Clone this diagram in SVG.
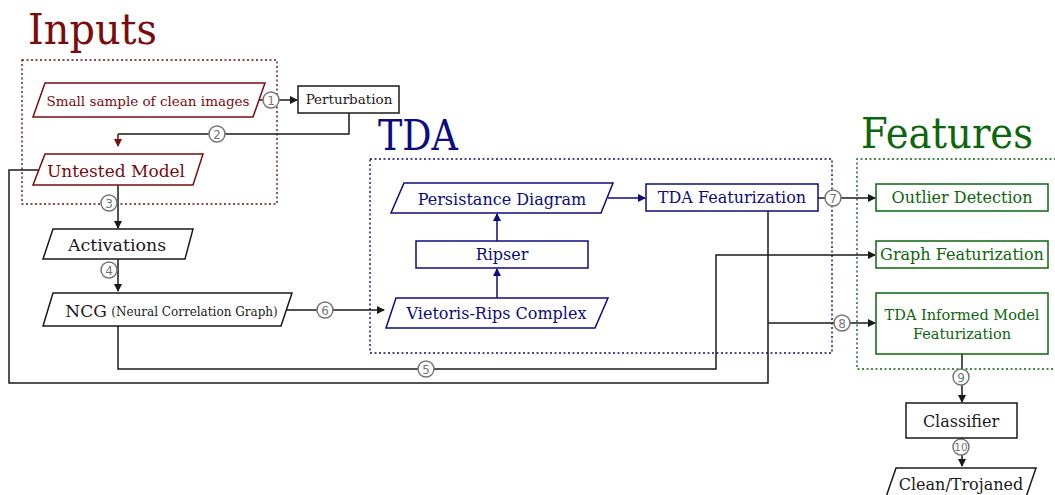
<svg xmlns="http://www.w3.org/2000/svg" width="1055" height="495" viewBox="0 0 1055 495">
<style>
  text { font-family: "DejaVu Serif", "Liberation Serif", serif; text-anchor: middle; }
  .title { font-size: 42px; text-anchor: start; }
  .red { fill: #7a0c0c; }
  .blue { fill: #0c0c80; }
  .green { fill: #0c660c; }
  .blk { fill: #1a1a1a; }
  .nred { fill: #fff; stroke: #7a0c0c; stroke-width: 1.5; }
  .nblue { fill: #fff; stroke: #0c0c80; stroke-width: 1.5; }
  .ngreen { fill: #fff; stroke: #0c660c; stroke-width: 1.5; }
  .nblk { fill: #fff; stroke: #1a1a1a; stroke-width: 1.5; }
  .lbl { font-size: 16px; }
  .frame { fill: none; stroke-width: 1.4; stroke-dasharray: 2 2.5; }
  .wire { fill: none; stroke: #1a1a1a; stroke-width: 1.5; }
  .wire-blue { fill: none; stroke: #0c0c80; stroke-width: 1.5; }
  .wire-red { fill: none; stroke: #7a0c0c; stroke-width: 1.5; }
  .num circle { fill: #fff; stroke: #777; stroke-width: 1.5; }
  .num text { font-family: "DejaVu Sans", sans-serif; font-size: 12px; fill: #777; }
</style>
<defs>
  <marker id="ah" viewBox="0 0 8 8" refX="7" refY="4" markerWidth="8" markerHeight="8" markerUnits="userSpaceOnUse" orient="auto">
    <path d="M0,0 L8,4 L0,8 Z" fill="#1a1a1a"/>
  </marker>
  <marker id="ah-blue" viewBox="0 0 8 8" refX="7" refY="4" markerWidth="8" markerHeight="8" markerUnits="userSpaceOnUse" orient="auto">
    <path d="M0,0 L8,4 L0,8 Z" fill="#0c0c80"/>
  </marker>
  <marker id="ah-red" viewBox="0 0 8 8" refX="7" refY="4" markerWidth="8" markerHeight="8" markerUnits="userSpaceOnUse" orient="auto">
    <path d="M0,0 L8,4 L0,8 Z" fill="#7a0c0c"/>
  </marker>
</defs>
<rect width="1055" height="495" fill="#fff"/>

<!-- group frames and titles -->
<g id="frames">
  <rect class="frame" x="22" y="60" width="255" height="144" stroke="#7a0c0c"/>
  <rect class="frame" x="370" y="159" width="462" height="194" stroke="#0c0c80"/>
  <path class="frame" d="M1056,159 H857 V369 H1056" stroke="#0c660c"/>
  <text class="title red" x="28" y="44" textLength="129" lengthAdjust="spacingAndGlyphs">Inputs</text>
  <text class="title blue" x="378" y="150" textLength="80" lengthAdjust="spacingAndGlyphs">TDA</text>
  <text class="title green" x="861" y="148" textLength="172" lengthAdjust="spacingAndGlyphs">Features</text>
</g>

<!-- connectors -->
<g id="connectors">
  <path class="wire" d="M258,100 H297" marker-end="url(#ah)"/>
  <path class="wire" d="M349,113 V134 H118"/>
  <path class="wire-red" d="M118,134 V146" marker-end="url(#ah-red)"/>
  <path class="wire" d="M118,185 V228" marker-end="url(#ah)"/>
  <path class="wire" d="M118,259 V291" marker-end="url(#ah)"/>
  <path class="wire" d="M287,310 H384" marker-end="url(#ah)"/>
  <path class="wire" d="M118,326 V369 H716 V255 H875" marker-end="url(#ah)"/>
  <path class="wire" d="M38,170 H9 V383 H768 V211"/>
  <path class="wire" d="M768,323 H875" marker-end="url(#ah)"/>
  <path class="wire-blue" d="M497,298 V269" marker-end="url(#ah-blue)"/>
  <path class="wire-blue" d="M497,241 V214" marker-end="url(#ah-blue)"/>
  <path class="wire-blue" d="M608,198 H645" marker-end="url(#ah-blue)"/>
  <path class="wire" d="M818,198 H875" marker-end="url(#ah)"/>
  <path class="wire" d="M962,354 V402" marker-end="url(#ah)"/>
  <path class="wire" d="M962,438 V466" marker-end="url(#ah)"/>
  <g class="num">
    <circle cx="271" cy="100" r="8"/><text x="271" y="104.5">1</text>
    <circle cx="217" cy="134" r="8"/><text x="217" y="138.5">2</text>
    <circle cx="109" cy="203" r="8"/><text x="109" y="207.5">3</text>
    <circle cx="109" cy="270" r="8"/><text x="109" y="274.5">4</text>
    <circle cx="426" cy="369" r="8"/><text x="426" y="373.5">5</text>
    <circle cx="325" cy="310" r="8"/><text x="325" y="314.5">6</text>
    <circle cx="833" cy="198" r="8"/><text x="833" y="202.5">7</text>
    <circle cx="842" cy="323" r="8"/><text x="842" y="327.5">8</text>
    <circle cx="961" cy="377" r="8"/><text x="961" y="381.5">9</text>
    <circle cx="961" cy="447" r="8"/><text x="961" y="451" style="font-size:10.5px">10</text>
  </g>
</g>

<!-- inputs -->
<g id="n-images">
  <polygon class="nred" points="45,83 265,83 253,117 33,117"/>
  <text class="red" x="148" y="106" style="font-size:13.5px">Small sample of clean images</text>
</g>
<g id="n-perturbation">
  <rect class="nblk" x="298" y="86" width="101" height="27"/>
  <text class="blk" x="349" y="104" style="font-size:13.5px">Perturbation</text>
</g>
<g id="n-model">
  <polygon class="nred" points="45,154 203,154 193,185 33,185"/>
  <text class="red" x="116" y="177" style="font-size:17px">Untested Model</text>
</g>
<g id="n-activations">
  <polygon class="nblk" points="53,229 193,229 185,259 43,259"/>
  <text class="blk" x="117" y="251" style="font-size:17.4px">Activations</text>
</g>
<g id="n-ncg">
  <polygon class="nblk" points="53,293 292,293 281,326 43,326"/>
  <text class="blk" x="86" y="317" style="font-size:17px">NCG</text>
  <text class="blk" x="194.5" y="316" style="font-size:12px">(Neural Correlation Graph)</text>
</g>

<!-- TDA -->
<g id="n-persistence">
  <polygon class="nblue" points="404,183 613,183 601,213 391,213"/>
  <text class="blue lbl" x="502" y="205">Persistance Diagram</text>
</g>
<g id="n-ripser">
  <rect class="nblue" x="416" y="241" width="172" height="27"/>
  <text class="blue lbl" x="502" y="260">Ripser</text>
</g>
<g id="n-vr">
  <polygon class="nblue" points="396,298 608,298 595,328 386,328"/>
  <text class="blue lbl" x="496.5" y="319">Vietoris-Rips Complex</text>
</g>
<g id="n-tdafeat">
  <rect class="nblue" x="646" y="184" width="172" height="27"/>
  <text class="blue lbl" x="732" y="203">TDA Featurization</text>
</g>

<!-- features -->
<g id="n-outlier">
  <rect class="ngreen" x="876" y="184" width="172" height="27"/>
  <text class="green lbl" x="962" y="203">Outlier Detection</text>
</g>
<g id="n-graphfeat">
  <rect class="ngreen" x="876" y="241" width="172" height="27"/>
  <text class="green lbl" x="962" y="260">Graph Featurization</text>
</g>
<g id="n-informed">
  <rect class="ngreen" x="876" y="293" width="172" height="61"/>
  <text class="green" x="962" y="320" style="font-size:14.5px">TDA Informed Model</text>
  <text class="green" x="962" y="339" style="font-size:14.5px">Featurization</text>
</g>

<!-- output -->
<g id="n-classifier">
  <rect class="nblk" x="906" y="403" width="111" height="35"/>
  <text class="blk lbl" x="961" y="427">Classifier</text>
</g>
<g id="n-result">
  <polygon class="nblk" points="896,468 1036,468 1026,497 886,497"/>
  <text class="blk lbl" x="961" y="490">Clean/Trojaned</text>
</g>
</svg>
